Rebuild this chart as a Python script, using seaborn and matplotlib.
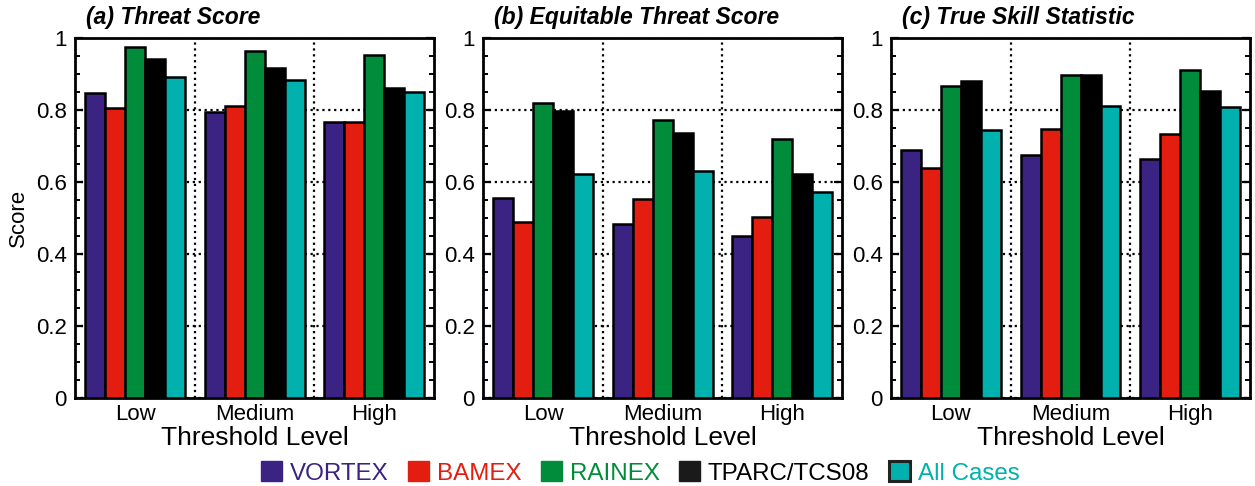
import numpy as np
import pandas as pd
import seaborn as sns
import matplotlib.pyplot as plt
from matplotlib.patches import Patch
from matplotlib.ticker import MultipleLocator

# --- dados ---
levels = ["Low", "Medium", "High"]
projects = ["VORTEX", "BAMEX", "RAINEX", "TPARC/TCS08", "All Cases"]

# Threat Score
ts_vortex = [0.847, 0.794, 0.767]
ts_bamex = [0.806, 0.811, 0.767]
ts_rainex = [0.975, 0.964, 0.953]
ts_tparc = [0.942, 0.917, 0.861]
ts_all = [0.892, 0.883, 0.850]

# Equitable Threat Score
ets_vortex = [0.555, 0.482, 0.449]
ets_bamex = [0.488, 0.553, 0.502]
ets_rainex = [0.818, 0.772, 0.720]
ets_tparc = [0.797, 0.737, 0.623]
ets_all = [0.621, 0.630, 0.573]

# True Skill Statistic
tss_vortex = [0.690, 0.675, 0.664]
tss_bamex = [0.640, 0.746, 0.732]
tss_rainex = [0.867, 0.898, 0.910]
tss_tparc = [0.880, 0.896, 0.852]
tss_all = [0.744, 0.812, 0.807]

yticks = [0, 0.2, 0.4, 0.6, 0.8, 1.0]
yticklabels = ["0", "0.2", "0.4", "0.6", "0.8", "1"]

titles = ["(a) Threat Score", "(b) Equitable Threat Score", "(c) True Skill Statistic"]
colors = ["#3b2383", "#e31e10", "#008c3b", "#000000", "#00b1ad"]


def long_df(series):
    rows = []
    for proj, vals in zip(projects, series):
        for lev, v in zip(levels, vals):
            rows.append({"level": lev, "project": proj, "score": v})
    return pd.DataFrame(rows)


panels = [
    long_df([ts_vortex, ts_bamex, ts_rainex, ts_tparc, ts_all]),
    long_df([ets_vortex, ets_bamex, ets_rainex, ets_tparc, ets_all]),
    long_df([tss_vortex, tss_bamex, tss_rainex, tss_tparc, tss_all]),
]

sns.set_style("ticks")
plt.rcParams["font.family"] = ["Liberation Sans", "DejaVu Sans"]
plt.rcParams["text.color"] = "black"
plt.rcParams["axes.labelcolor"] = "black"
plt.rcParams["xtick.color"] = "black"
plt.rcParams["ytick.color"] = "black"
plt.rcParams["axes.edgecolor"] = "black"

fig, axes = plt.subplots(1, 3, figsize=(12.55, 4.86), dpi=100)
fig.subplots_adjust(left=0.06, right=0.996, top=0.922, bottom=0.181, wspace=0.137)

for ax, df, title in zip(axes, panels, titles):
    sns.barplot(data=df, x="level", y="score", hue="project", order=levels,
                hue_order=projects, palette=colors, saturation=1, width=0.834,
                edgecolor="black", linewidth=1.8, ax=ax, legend=False,
                errorbar=None, zorder=3)
    ax.set_xlim(-0.5, 2.5)
    ax.set_ylim(0, 1)
    ax.set_yticks(yticks)
    ax.set_yticklabels(yticklabels)
    ax.yaxis.set_minor_locator(MultipleLocator(0.05))
    ax.tick_params(axis="y", which="major", direction="in", length=6, width=1.6,
                   right=True, labelsize=16, pad=6)
    ax.tick_params(axis="y", which="minor", direction="in", length=3.5, width=1.4,
                   right=True)
    ax.tick_params(axis="x", length=0, labelsize=16, pad=4)
    ax.grid(axis="y", linestyle=":", color="black", linewidth=1.6, zorder=0)
    for xv in [0.5, 1.5]:
        ax.axvline(xv, linestyle=":", color="black", linewidth=1.6, zorder=1)
    for sp in ax.spines.values():
        sp.set_linewidth(2)
        sp.set_visible(True)
    ax.set_xlabel("Threshold Level", fontsize=19, labelpad=1)
    ax.set_ylabel("")
    ax.text(0.03, 1.025, title, transform=ax.transAxes, fontsize=16.5,
            fontweight="bold", fontstyle="italic", ha="left", va="bottom")

axes[0].set_ylabel("Score", fontsize=16, labelpad=5)

handles = [Patch(facecolor=c, edgecolor=c) for c in colors]
handles[3] = Patch(facecolor="#1a1a1a", edgecolor="#1a1a1a")
handles[4] = Patch(facecolor=colors[4], edgecolor="#222222", linewidth=2.2)
fig.legend(handles, projects, loc="center", bbox_to_anchor=(0.51, 0.027), ncol=5,
           frameon=False, fontsize=17.4, handlelength=0.87, handleheight=0.92,
           handletextpad=0.33, columnspacing=0.8, labelcolor=colors)

plt.savefig("out.png", dpi=100)
